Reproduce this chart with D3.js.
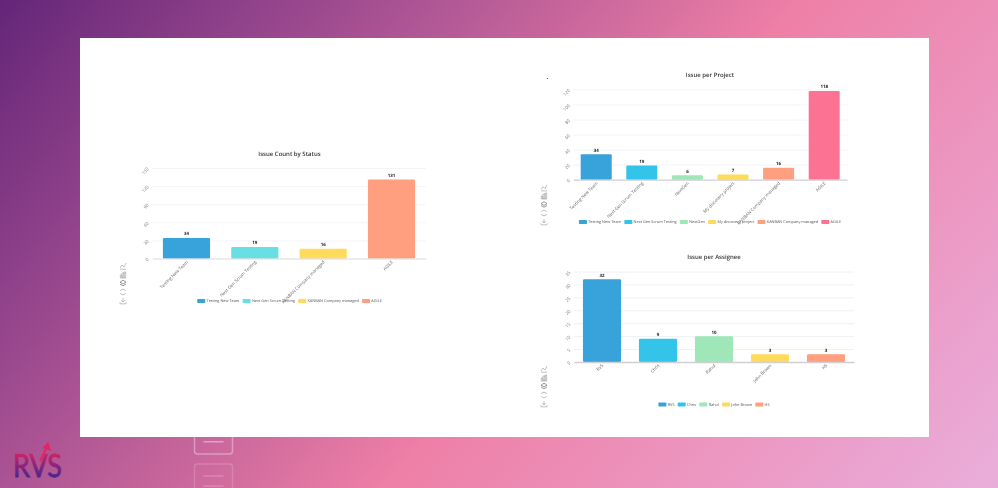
<!DOCTYPE html>
<html>
<head>
<meta charset="utf-8">
<title>Issue charts</title>
<script src="https://cdn.jsdelivr.net/npm/d3@7"></script>
<style>
  html, body { margin: 0; padding: 0; overflow: hidden; background: #fff; }
  svg { display: block; }
  text { font-family: "Open Sans", sans-serif; text-rendering: geometricPrecision; }
</style>
</head>
<body>
<div id="app"></div>
<script>
// Chart data
var statusNames = ["Testing New Team", "Next Gen Scrum Testing", "KANBAN Company managed", "AGILE"];
var statusCounts = [34, 19, 16, 131];
var statusTicks = [0, 30, 60, 90, 120, 150];
var statusColors = ["#37A2DA", "#67E0E3", "#FFDB5C", "#ff9f7f"];

var projectNames = ["Testing New Team", "Next Gen Scrum Testing", "NextGen", "My discovery project", "KANBAN Company managed", "AGILE"];
var projectCounts = [34, 19, 6, 7, 16, 118];
var projectTicks = [0, 20, 40, 60, 80, 100, 120];
var projectColors = ["#37A2DA", "#32C5E9", "#9FE6B8", "#FFDB5C", "#ff9f7f", "#fb7293"];

var assigneeNames = ["RVS", "Chris", "Rahul", "John Brown", "HS"];
var assigneeCounts = [32, 9, 10, 3, 3];
var assigneeTicks = [0, 5, 10, 15, 20, 25, 30, 35];
var assigneeColors = ["#37A2DA", "#32C5E9", "#9FE6B8", "#FFDB5C", "#ff9f7f"];

var width = 998, height = 488;

var svg = d3.select("#app").append("svg")
	.attr("width", width)
	.attr("height", height);

var defs = svg.append("defs");

var bgGrad = defs.append("linearGradient")
	.attr("id", "bg")
	.attr("gradientUnits", "userSpaceOnUse")
	.attr("x1", 60).attr("y1", -130)
	.attr("x2", 940).attr("y2", 620);
bgGrad.append("stop").attr("offset", 0).attr("stop-color", "#5c2075");
bgGrad.append("stop").attr("offset", 0.28).attr("stop-color", "#a44f92");
bgGrad.append("stop").attr("offset", 0.56).attr("stop-color", "#ee7fa6");
bgGrad.append("stop").attr("offset", 1).attr("stop-color", "#e9b2e0");

var logoGrad = defs.append("linearGradient")
	.attr("id", "logo")
	.attr("x1", 0).attr("y1", 0).attr("x2", 0).attr("y2", 1);
logoGrad.append("stop").attr("offset", 0.1).attr("stop-color", "#ea2160");
logoGrad.append("stop").attr("offset", 0.85).attr("stop-color", "#43278c");

// the reference is a soft, scaled down screenshot
defs.append("filter").attr("id", "soft")
	.attr("x", "-5%").attr("y", "-5%").attr("width", "110%").attr("height", "110%")
	.append("feGaussianBlur").attr("stdDeviation", 0.22);

svg.append("rect").attr("width", width).attr("height", height).attr("fill", "url(#bg)");

// faded document icons behind the panel
var docs = svg.append("g").attr("fill", "none").attr("stroke", "#fff").attr("stroke-linecap", "round");
docs.append("rect").attr("x", 194.5).attr("y", 425).attr("width", 38).attr("height", 29)
	.attr("rx", 3).attr("stroke-width", 1.5).attr("stroke-opacity", 0.35);
docs.append("line").attr("x1", 204).attr("x2", 223).attr("y1", 441.7).attr("y2", 441.7)
	.attr("stroke-width", 1.5).attr("stroke-opacity", 0.4);
docs.append("rect").attr("x", 194.5).attr("y", 464).attr("width", 38).attr("height", 34)
	.attr("rx", 3).attr("stroke-width", 1.5).attr("stroke-opacity", 0.17);
docs.append("line").attr("x1", 204).attr("x2", 223).attr("y1", 476).attr("y2", 476)
	.attr("stroke-width", 1.5).attr("stroke-opacity", 0.2);
docs.append("line").attr("x1", 204).attr("x2", 223).attr("y1", 486).attr("y2", 486)
	.attr("stroke-width", 1.5).attr("stroke-opacity", 0.2);

// white panel
svg.append("rect").attr("x", 80).attr("y", 38).attr("width", 849).attr("height", 399).attr("fill", "#fff");
svg.append("circle").attr("cx", 547.5).attr("cy", 78.5).attr("r", 0.6).attr("fill", "#555");

// logo
var logo = svg.append("g");
logo.append("text")
	.attr("x", 13).attr("y", 477)
	.attr("textLength", 49).attr("lengthAdjust", "spacingAndGlyphs")
	.attr("font-size", 32)
	.attr("font-weight", 400)
	.attr("fill", "url(#logo)")
	.attr("stroke", "url(#logo)")
	.attr("stroke-width", 0.8)
	.style("font-family", "Lato, sans-serif")
	.text("RVS");
logo.append("path")
	.attr("d", "M40 461 L46.5 448")
	.attr("fill", "none").attr("stroke", "#e52563").attr("stroke-width", 2);
logo.append("path")
	.attr("d", "M48 442 L51.5 451 L42.5 448 Z")
	.attr("fill", "#e52563");

function drawToolbox(parent, x, ys)
{
	var paths = [
		"M-3 2 L-1 -1 L1 1 L3 -3 M-3 3.2 H3",
		"M-2.7 3 V0 H-1 V3 M-1 3 V-2 H1 V3 M1 3 V-3 H2.7 V3 H-2.7",
		"M-3 -0.8 L0 -2.8 L3 -0.8 L0 1 Z M-3 1 L0 2.8 L3 1",
		"M-2.7 -1 A2.9 2.9 0 0 1 2.7 -1 M2.7 1 A2.9 2.9 0 0 1 -2.7 1",
		"M0 -3 V1 M-1.8 -0.8 L0 1 L1.8 -0.8 M-3 1.3 V2.8 H3 V1.3"
	];
	var g = parent.append("g").attr("fill", "none").attr("stroke-width", 0.6);
	ys.forEach(function (y, i) {
		g.append("path")
			.attr("transform", "translate(" + x + "," + y + ")")
			.attr("d", paths[i])
			.attr("stroke", i == 2 ? "#555" : "#999");
	});
}

function drawChart(c)
{
	var y = d3.scaleLinear()
		.domain([0, c.ticks[c.ticks.length - 1]])
		.range([c.bottom, c.top]);

	var x = d3.scaleBand()
		.domain(c.names)
		.range([c.left, c.right])
		.paddingInner(c.padding)
		.paddingOuter(c.padding / 2);

	var g = svg.append("g").attr("filter", "url(#soft)");

	g.append("text")
		.attr("x", c.titleX).attr("y", c.titleY)
		.attr("text-anchor", "middle")
		.attr("font-size", 6)
		.attr("font-weight", 600)
		.attr("fill", "#333")
		.text(c.title);

	// gridlines
	g.append("g").selectAll("line")
		.data(c.ticks.filter(function (t) { return t > 0; }))
		.join("line")
		.attr("x1", c.left).attr("x2", c.right)
		.attr("y1", function (t) { return y(t) + 0.5; })
		.attr("y2", function (t) { return y(t) + 0.5; })
		.attr("stroke", "#e8ecf4")
		.attr("stroke-width", c.gridWidth);

	// y axis, labels turned like the x ones
	var yAxis = g.append("g")
		.attr("transform", "translate(" + c.left + ",0)")
		.call(d3.axisLeft(y).tickValues(c.ticks).tickSize(0).tickPadding(4));
	yAxis.select(".domain").remove();
	yAxis.selectAll("text")
		.attr("font-size", 4.4)
		.style("font-family", "\"Open Sans\", sans-serif")
		.attr("fill", "#777")
		.attr("x", null).attr("dy", null)
		.attr("dominant-baseline", "middle")
		.attr("text-anchor", "end")
		.attr("transform", "translate(-4,0) rotate(-45)");

	// bars
	g.append("g").selectAll("rect")
		.data(c.counts)
		.join("rect")
		.attr("x", function (d, i) { return x(c.names[i]); })
		.attr("y", function (d) { return y(d); })
		.attr("width", x.bandwidth())
		.attr("height", function (d) { return c.bottom - y(d); })
		.attr("rx", 1.2)
		.attr("fill", function (d, i) { return c.colors[i]; });

	// x axis
	var xAxis = g.append("g")
		.attr("transform", "translate(0," + c.bottom + ")")
		.call(d3.axisBottom(x).tickSize(0).tickPadding(3));
	xAxis.select(".domain")
		.attr("stroke", "#cfcfd4")
		.attr("stroke-width", c.axisWidth);
	xAxis.selectAll("text")
		.attr("font-size", 4.4)
		.style("font-family", "\"Open Sans\", sans-serif")
		.attr("fill", "#666")
		.attr("y", null).attr("dy", null)
		.attr("dominant-baseline", "middle")
		.attr("text-anchor", "end")
		.attr("transform", "translate(1,3) rotate(-45)");

	// value labels
	g.append("g").selectAll("text")
		.data(c.counts)
		.join("text")
		.attr("x", function (d, i) { return x(c.names[i]) + x.bandwidth() / 2; })
		.attr("y", function (d) { return y(d) - 2.6; })
		.attr("text-anchor", "middle")
		.attr("font-size", 4.4)
		.attr("font-weight", 700)
		.attr("fill", "#222")
		.text(function (d) { return d; });

	// legend, centred on the measured width
	var legend = g.append("g");
	var cursor = 0;
	c.names.forEach(function (name, i) {
		var item = legend.append("g").attr("transform", "translate(" + cursor + ",0)");
		item.append("rect")
			.attr("y", -2).attr("width", 8).attr("height", 4)
			.attr("rx", 0.8)
			.attr("fill", c.colors[i]);
		var label = item.append("text")
			.attr("x", 9.3)
			.attr("dominant-baseline", "middle")
			.attr("font-size", 3.85)
			.attr("fill", "#555")
			.text(name);
		cursor += 9.3 + label.node().getComputedTextLength() + 3.2;
	});
	legend.attr("transform", "translate(" + (c.legendX - (cursor - 3.2) / 2) + "," + c.legendY + ")");

	drawToolbox(g, c.toolX, c.toolY);
}

drawChart({
	title: "Issue Count by Status", titleX: 289.5, titleY: 155.5,
	names: statusNames, counts: statusCounts, ticks: statusTicks, colors: statusColors,
	left: 152.3, right: 425.7, top: 168, bottom: 258.5, padding: 0.31,
	gridWidth: 0.6, axisWidth: 0.8,
	legendX: 289.5, legendY: 301,
	toolX: 123, toolY: [266, 275, 283, 292, 301]
});

drawChart({
	title: "Issue per Project", titleX: 710, titleY: 76.5,
	names: projectNames, counts: projectCounts, ticks: projectTicks, colors: projectColors,
	left: 573.4, right: 847, top: 89.5, bottom: 179.7, padding: 0.32,
	gridWidth: 0.6, axisWidth: 1.2,
	legendX: 710, legendY: 222,
	toolX: 544, toolY: [187.7, 196, 204.5, 213, 222]
});

drawChart({
	title: "Issue per Assignee", titleX: 714, titleY: 258.5,
	names: assigneeNames, counts: assigneeCounts, ticks: assigneeTicks, colors: assigneeColors,
	left: 574, right: 854, top: 271.5, bottom: 362, padding: 0.32,
	gridWidth: 0.8, axisWidth: 1.4,
	legendX: 714, legendY: 404.5,
	toolX: 544, toolY: [369, 378, 386, 395, 404]
});
</script>
</body>
</html>
